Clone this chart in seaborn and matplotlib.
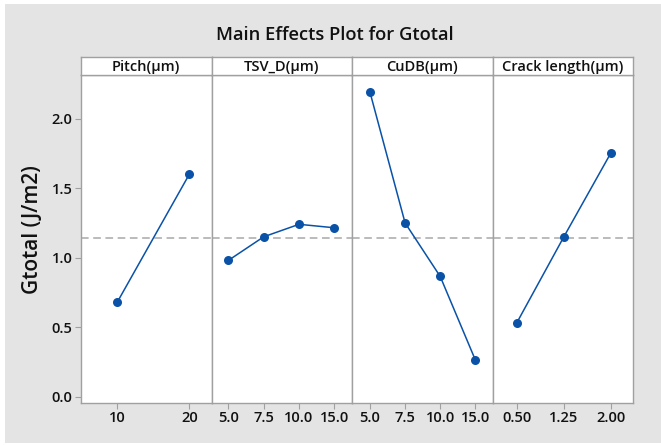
import matplotlib
matplotlib.use("Agg")
import matplotlib.pyplot as plt
from matplotlib.patches import Rectangle
import seaborn as sns
import pandas as pd

# ---- data ----
factors = ["Pitch(μm)", "TSV_D(μm)", "CuDB(μm)", "Crack length(μm)"]
pitch_levels = ["10", "20"]
pitch_means = [0.68, 1.60]
tsv_levels = ["5.0", "7.5", "10.0", "15.0"]
tsv_means = [0.98, 1.15, 1.24, 1.215]
cudb_levels = ["5.0", "7.5", "10.0", "15.0"]
cudb_means = [2.19, 1.25, 0.865, 0.265]
crack_levels = ["0.50", "1.25", "2.00"]
crack_means = [0.53, 1.15, 1.755]
y_ticks = [0.0, 0.5, 1.0, 1.5, 2.0]
title = "Main Effects Plot for Gtotal"
ylabel = "Gtotal (J/m2)"

levels_all = [pitch_levels, tsv_levels, cudb_levels, crack_levels]
means_all = [pitch_means, tsv_means, cudb_means, crack_means]
rows = []
for f, lv, mv in zip(factors, levels_all, means_all):
    for i, (l, m) in enumerate(zip(lv, mv)):
        rows.append({"factor": f, "level": l, "pos": i, "mean": m})
df = pd.DataFrame(rows)
grand_mean = sum(pitch_means) / len(pitch_means)

sns.set_style("white")
plt.rcParams["font.family"] = ["Open Sans", "DejaVu Sans"]
WT = "semibold"

W, H = 661, 445
fig = plt.figure(figsize=(W / 100, H / 100), dpi=100, facecolor="white")
fig.patches.append(Rectangle((5 / W, 2 / H), (W - 5) / W, (H - 6) / H,
                             transform=fig.transFigure, facecolor="#e4e4e4",
                             edgecolor="none", zorder=-10))

edges = [80.7, 211.7, 351.7, 492.7, 633.3]
xlims = [(-0.508, 1.311), (-0.47, 3.49), (-0.521, 3.496), (-0.509, 2.473)]
ax_bot, ax_top, strip_top = 402.5, 75.3, 57.3
border = "#a0a0a0"
blue = "#0a52a8"

axes = []
for k, f in enumerate(factors):
    x0 = edges[k] / W
    w = (edges[k + 1] - edges[k]) / W
    ax = fig.add_axes([x0, (H - ax_bot) / H, w, (ax_bot - ax_top) / H])
    sub = df[df["factor"] == f]
    ax.axhline(grand_mean, color="#a8a8a8", ls=(0, (5, 3)), lw=1.1, zorder=1)
    sns.lineplot(data=sub, x="pos", y="mean", ax=ax, color=blue, lw=1.1,
                 marker="o", markersize=6.5, markeredgewidth=0, zorder=3)
    ax.set_xlim(*xlims[k])
    ax.set_ylim(-0.042, 2.312)
    ax.set_xticks(range(len(levels_all[k])))
    ax.set_xticklabels(levels_all[k], fontsize=10.5, fontweight=WT)
    ax.set_xlabel("")
    ax.set_ylabel("")
    ax.set_facecolor("white")
    for s in ax.spines.values():
        s.set_color(border)
        s.set_linewidth(1.0)
    ax.tick_params(axis="x", direction="out", length=4, color=border,
                   bottom=True, pad=2, labelcolor="#111111")
    if k == 0:
        ax.set_yticks(y_ticks)
        ax.set_yticklabels([f"{v:.1f}" for v in y_ticks], fontsize=10.5,
                           fontweight=WT)
        ax.tick_params(axis="y", direction="out", length=4, color=border,
                       left=True, pad=2, labelcolor="#111111")
    else:
        ax.set_yticks([])
    # strip header
    sax = fig.add_axes([x0, (H - ax_top) / H, w, (ax_top - strip_top) / H])
    sax.set_facecolor("white")
    sax.set_xticks([])
    sax.set_yticks([])
    for s in sax.spines.values():
        s.set_color(border)
        s.set_linewidth(1.0)
    sax.text(0.5, 0.45, f, ha="center", va="center", fontsize=10.5,
             fontweight=WT, color="#111111", transform=sax.transAxes)
    axes.append(ax)

fig.text(335 / W, 1 - 35 / H, title, ha="center", va="center", fontsize=13.2,
         fontweight=WT, color="#111111")
fig.text(33 / W, 1 - 230 / H, ylabel, ha="center", va="center", fontsize=15,
         fontweight=WT, rotation=90, color="#111111")

fig.savefig("out.png", dpi=100, facecolor="white")
